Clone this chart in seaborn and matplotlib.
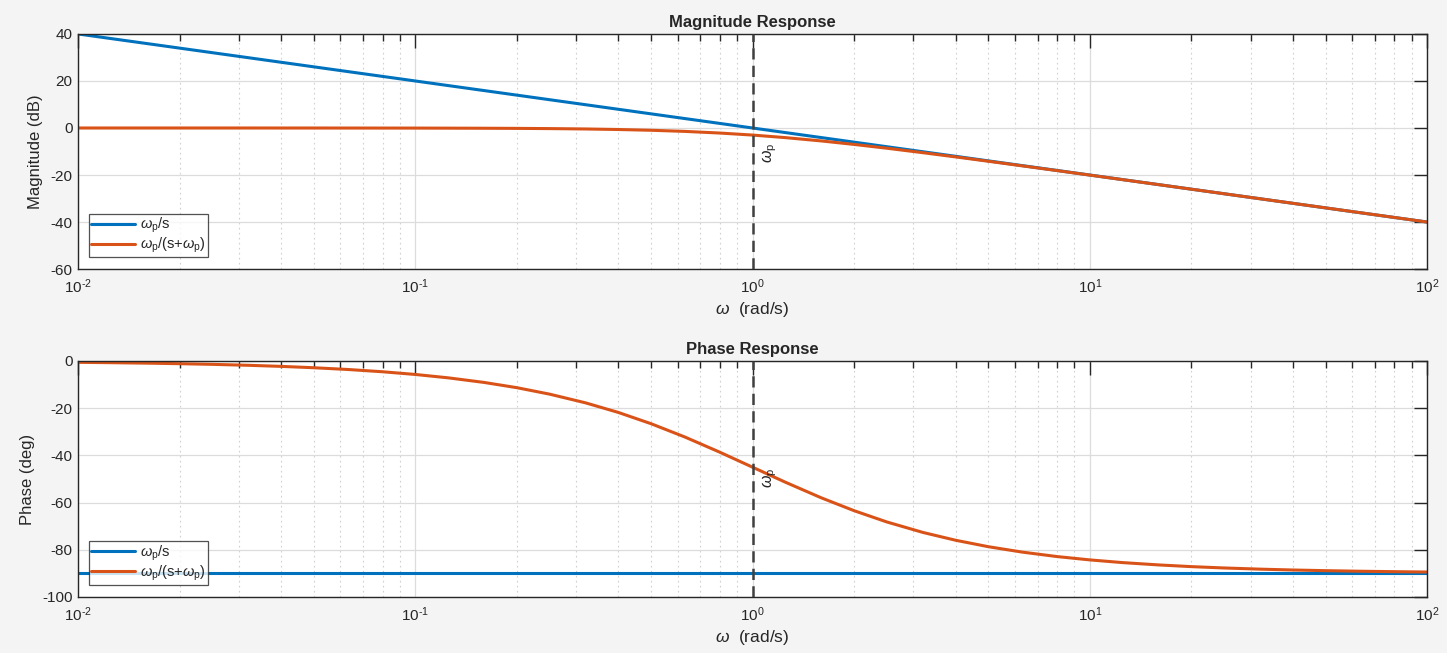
import numpy as np
import pandas as pd
import matplotlib
matplotlib.use('Agg')
import matplotlib.pyplot as plt
import seaborn as sns
from matplotlib.ticker import LogLocator, FuncFormatter, NullFormatter, MultipleLocator

# frequency samples (rad/s)
omega = [0.01, 0.0125, 0.016, 0.02, 0.025, 0.032, 0.04, 0.05, 0.063, 0.08,
         0.1, 0.125, 0.16, 0.2, 0.25, 0.32, 0.4, 0.5, 0.63, 0.8,
         1, 1.25, 1.6, 2, 2.5, 3.2, 4, 5, 6.3, 8,
         10, 12.5, 16, 20, 25, 32, 40, 50, 63, 80, 100]
# magnitude (dB)
mag_integrator = [40, 38.06, 35.92, 33.98, 32.04, 29.9, 27.96, 26.02, 24.01, 21.94,
                  20, 18.06, 15.92, 13.98, 12.04, 9.9, 7.96, 6.02, 4.01, 1.94,
                  0, -1.94, -4.08, -6.02, -7.96, -10.1, -12.04, -13.98, -15.99, -18.06,
                  -20, -21.94, -24.08, -26.02, -27.96, -30.1, -32.04, -33.98, -35.99, -38.06, -40]
mag_lowpass = [0.0, 0.0, 0.0, 0.0, 0.0, 0.0, -0.01, -0.01, -0.02, -0.03,
               -0.04, -0.07, -0.11, -0.17, -0.26, -0.42, -0.65, -0.97, -1.45, -2.15,
               -3.01, -4.09, -5.51, -6.99, -8.6, -10.51, -12.3, -14.15, -16.1, -18.13,
               -20.04, -21.97, -24.1, -26.03, -27.97, -30.11, -32.04, -33.98, -35.99, -38.06, -40.0]
# phase (deg)
phase_integrator = [-90] * 41
phase_lowpass = [-0.57, -0.72, -0.92, -1.15, -1.43, -1.83, -2.29, -2.86, -3.6, -4.57,
                 -5.71, -7.13, -9.09, -11.31, -14.04, -17.75, -21.8, -26.57, -32.21, -38.66,
                 -45.0, -51.34, -58.0, -63.43, -68.2, -72.65, -75.96, -78.69, -80.98, -82.88,
                 -84.29, -85.43, -86.42, -87.14, -87.71, -88.21, -88.57, -88.85, -89.09, -89.28, -89.43]

labels = [r'$\omega_{\mathrm{p}}$/s', r'$\omega_{\mathrm{p}}$/(s+$\omega_{\mathrm{p}}$)']
colors = ['#0072BD', '#D95319']
omega_p = 1

sns.set_style('white')
plt.rcParams['font.family'] = ['Liberation Sans', 'DejaVu Sans']
plt.rcParams['mathtext.fontset'] = 'custom'
plt.rcParams['mathtext.rm'] = 'Liberation Sans'
plt.rcParams['mathtext.it'] = 'Liberation Sans:italic'
plt.rcParams['mathtext.bf'] = 'Liberation Sans:bold'
plt.rcParams['axes.unicode_minus'] = False


def decade_label(v, pos):
    e = int(round(np.log10(v)))
    if e < 0:
        return r'$10^{\text{-%d}}$' % (-e)
    return r'$10^{%d}$' % e


txt = '#262626'
fig = plt.figure(figsize=(14.47, 6.53), dpi=100, facecolor='#f4f4f4')
ax1 = fig.add_axes([0.0539, 0.588, 0.9323, 0.360])
ax2 = fig.add_axes([0.0539, 0.0858, 0.9323, 0.3614])

panels = [
    (ax1, [mag_integrator, mag_lowpass], 'Magnitude Response', 'Magnitude (dB)', (-60, 40), -6.4),
    (ax2, [phase_integrator, phase_lowpass], 'Phase Response', 'Phase (deg)', (-100, 0), -45.3),
]

for ax, series, title, ylabel, ylim, ytxt in panels:
    ax.set_facecolor('white')
    for vals, lab, c in zip(series, labels, colors):
        df = pd.DataFrame({'omega': omega, 'val': vals})
        sns.lineplot(data=df, x='omega', y='val', ax=ax, color=c, lw=2.2,
                     label=lab, sort=False, estimator=None)
    ax.set_xscale('log')
    ax.set_xlim(0.01, 100)
    ax.set_ylim(*ylim)
    ax.yaxis.set_major_locator(MultipleLocator(20))
    ax.xaxis.set_major_locator(LogLocator(base=10, numticks=10))
    ax.xaxis.set_minor_locator(LogLocator(base=10, subs=np.arange(2, 10), numticks=20))
    ax.xaxis.set_major_formatter(FuncFormatter(decade_label))
    ax.xaxis.set_minor_formatter(NullFormatter())
    ax.grid(True, which='major', color='#dcdcdc', lw=0.9, ls='-')
    ax.grid(True, which='minor', axis='x', color='#d0d0d0', lw=0.8, ls=(0, (1.5, 3)))
    ax.set_axisbelow(True)
    ax.tick_params(which='both', direction='in', top=True, right=True, colors=txt,
                   labelsize=11, width=1)
    ax.tick_params(which='major', axis='x', length=10, pad=6)
    ax.tick_params(which='minor', axis='x', length=5)
    ax.tick_params(which='major', axis='y', length=9.5, pad=4)
    for s in ax.spines.values():
        s.set_color(txt)
        s.set_linewidth(1)
    ax.axvline(omega_p, color='#404040', lw=1.8, ls=(0, (4.5, 2.5)), zorder=3)
    ax.annotate(r'$\omega_{\mathrm{p}}$', xy=(omega_p, ytxt), xytext=(6, 0),
                textcoords='offset points', rotation=90, ha='left', va='top',
                fontsize=11.5, color=txt)
    ax.set_title(title, fontsize=12, fontweight='bold', color=txt, pad=5)
    ax.set_xlabel(r'$\omega$  (rad/s)', fontsize=12.5, color=txt, labelpad=3)
    ax.set_ylabel(ylabel, fontsize=12, color=txt, labelpad=5)
    leg = ax.legend(loc='lower left', bbox_to_anchor=(0.008, 0.05), fontsize=10.5,
                    frameon=True, fancybox=False, handlelength=3.0, handletextpad=0.35,
                    borderpad=0.15, labelspacing=0.05, borderaxespad=0)
    leg.get_frame().set_edgecolor(txt)
    leg.get_frame().set_linewidth(0.9)
    for t in leg.get_texts():
        t.set_color(txt)

fig.savefig('out.png', dpi=100, facecolor=fig.get_facecolor())
